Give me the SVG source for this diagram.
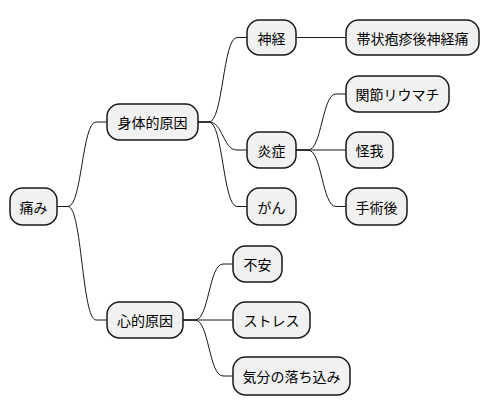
<svg xmlns="http://www.w3.org/2000/svg" width="488" height="415" viewBox="0 0 488 415">
<style>
.n rect{fill:#F1F1F1;stroke:#181818;stroke-width:1.5}
.n text{font-family:"Noto Sans CJK JP","Noto Sans",sans-serif;font-size:14px;fill:#000;text-anchor:middle;dominant-baseline:central}
#edges path{fill:none;stroke:#181818;stroke-width:1}
</style>
<rect width="488" height="415" fill="#FFFFFF"/>
<g id="edges">
<path d="M57,206.5 L68,206.5 C82,206.5 82,122 96,122 L107,122"/>
<path d="M57,206.5 L68,206.5 C82,206.5 82,320 96,320 L107,320"/>
<path d="M198,122 L209,122 C223,122 223,37.5 237,37.5 L247,37.5"/>
<path d="M198,122 L209,122 C223,122 223,150 237,150 L247,150"/>
<path d="M198,122 L209,122 C223,122 223,206.5 237,206.5 L247,206.5"/>
<path d="M296,37.5 L346,37.5"/>
<path d="M296,150 L308,150 C322,150 322,94 336,94 L346,94"/>
<path d="M296,150 L346,150"/>
<path d="M296,150 L308,150 C322,150 322,206.5 336,206.5 L346,206.5"/>
<path d="M183,320 L195,320 C209,320 209,264 223,264 L233,264"/>
<path d="M183,320 L233,320"/>
<path d="M183,320 L195,320 C209,320 209,376 223,376 L233,376"/>
</g>
<g id="n-itami" class="n"><rect x="10" y="188" width="47" height="37" rx="12.5"/><text x="33.5" y="206.5">痛み</text></g>
<g id="n-shintai" class="n"><rect x="107" y="104" width="91" height="36" rx="12.5"/><text x="152.5" y="122">身体的原因</text></g>
<g id="n-shinkei" class="n"><rect x="247" y="20" width="49" height="35" rx="12.5"/><text x="271.5" y="37.5">神経</text></g>
<g id="n-taijo" class="n"><rect x="346" y="20" width="133" height="35" rx="12.5"/><text x="412.5" y="37.5">帯状疱疹後神経痛</text></g>
<g id="n-ensho" class="n"><rect x="247" y="132" width="49" height="36" rx="12.5"/><text x="271.5" y="150">炎症</text></g>
<g id="n-kansetsu" class="n"><rect x="346" y="76" width="103" height="36" rx="12.5"/><text x="397.5" y="94">関節リウマチ</text></g>
<g id="n-kega" class="n"><rect x="346" y="132" width="47" height="36" rx="12.5"/><text x="369.5" y="150">怪我</text></g>
<g id="n-shujutsu" class="n"><rect x="346" y="188" width="61" height="37" rx="12.5"/><text x="376.5" y="206.5">手術後</text></g>
<g id="n-gan" class="n"><rect x="247" y="188" width="49" height="37" rx="12.5"/><text x="271.5" y="206.5">がん</text></g>
<g id="n-shinteki" class="n"><rect x="107" y="302" width="76" height="36" rx="12.5"/><text x="145" y="320">心的原因</text></g>
<g id="n-fuan" class="n"><rect x="233" y="246" width="49" height="36" rx="12.5"/><text x="257.5" y="264">不安</text></g>
<g id="n-stress" class="n"><rect x="233" y="302" width="77" height="36" rx="12.5"/><text x="271.5" y="320">ストレス</text></g>
<g id="n-kibun" class="n"><rect x="233" y="357" width="117" height="38" rx="12.5"/><text x="291.5" y="376">気分の落ち込み</text></g>
</svg>
